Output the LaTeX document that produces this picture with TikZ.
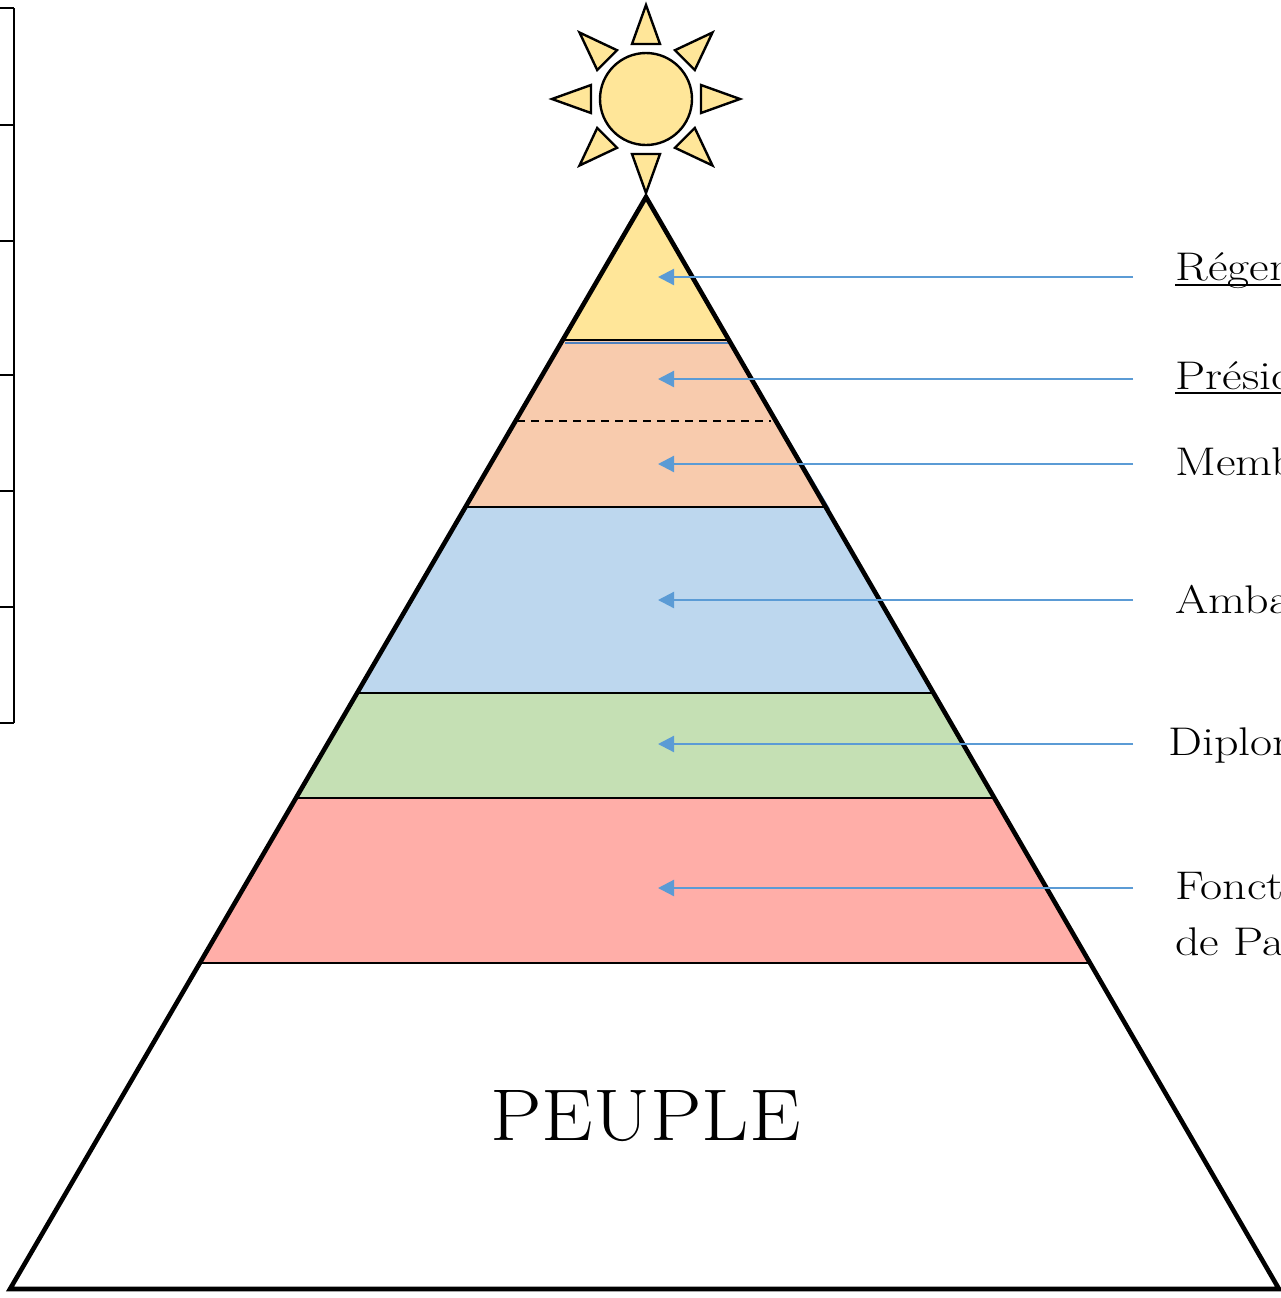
\documentclass[tikz,border=0pt]{standalone}
\usetikzlibrary{arrows.meta}
\definecolor{sunY}{HTML}{FFE699}
\definecolor{bandO}{HTML}{F8CBAD}
\definecolor{bandB}{HTML}{BDD7EE}
\definecolor{bandG}{HTML}{C5E0B4}
\definecolor{bandR}{HTML}{FFAEA8}
\definecolor{arrowB}{HTML}{5B9BD5}
\definecolor{edgeB}{HTML}{4F81BD}
\newcommand{\wide}[1]{\scalebox{1.2}[1]{#1}}
\tikzset{
  bandline/.style={line width=1pt, black},
  outline/.style={line width=2.3pt, black, line join=miter},
  sunpart/.style={fill=sunY, draw=black, line width=1.2pt, line join=miter},
  pointer/.style={draw=arrowB, line width=1.1pt, -{Triangle[length=8pt,width=8pt]}},
  lab/.style={anchor=base west, inner sep=0pt, font=\fontsize{20}{28}\selectfont},
  scaleline/.style={line width=1pt, black}
}
\begin{document}
\begin{tikzpicture}[x=0.5pt,y=-0.5pt]
\useasboundingbox (0,0) rectangle (1281,1298);
\clip (0,0) rectangle (1281,1298);
\fill[white] (0,0) rectangle (1281,1298);

% left scale
\draw[scaleline] (14,8) -- (14,723);
\foreach \yy in {8,125,241,375,491,607,723} \draw[scaleline] (0,\yy) -- (14,\yy);

% bands
\fill[sunY]  (646,197) -- (562.7,340) -- (728.9,340) -- cycle;
\fill[bandO] (562.7,340) -- (728.9,340) -- (825.7,507) -- (465.5,507) -- cycle;
\fill[bandB] (465.5,507) -- (825.7,507) -- (933.5,693) -- (357.1,693) -- cycle;
\fill[bandG] (357.1,693) -- (933.5,693) -- (994.4,798) -- (296.0,798) -- cycle;
\fill[bandR] (296.0,798) -- (994.4,798) -- (1090.1,963) -- (199.9,963) -- cycle;

% blue edge of the orange band
\draw[edgeB, line width=0.9pt] (565,343) -- (731,343) -- (829,509);

% band separators
\draw[bandline] (562.7,340) -- (728.9,340);
\draw[bandline, dash pattern=on 4pt off 3pt] (517,421) -- (771,421);
\draw[bandline] (465.5,507) -- (825.7,507);
\draw[bandline] (357.1,693) -- (933.5,693);
\draw[bandline] (296.0,798) -- (994.4,798);
\draw[bandline] (199.9,963) -- (1090.1,963);

% pyramid outline
\draw[outline] (646,197) -- (10,1289) -- (1279,1289) -- cycle;

% sun
\draw[sunpart] (646,99) circle[radius=46];
\foreach \a in {0,45,...,315}
  \draw[sunpart, rotate around={\a:(646,99)}] (701,85) -- (740,99) -- (701,113) -- cycle;

% arrows
\coordinate (s1) at (1133,277); \coordinate (t1) at (658,277);
\coordinate (s2) at (1133,379); \coordinate (t2) at (658,379);
\coordinate (s3) at (1133,464); \coordinate (t3) at (658,464);
\coordinate (s4) at (1133,600); \coordinate (t4) at (658,600);
\coordinate (s5) at (1133,744); \coordinate (t5) at (658,744);
\coordinate (s6) at (1133,888); \coordinate (t6) at (658,888);
\foreach \i in {1,...,6} \draw[pointer] (s\i) -- (t\i);

% labels
\node[lab] (l1) at (1175,280) {\wide{Régent}};
\node[lab] (l2) at (1175,389) {\wide{Président}};
\node[lab] (l3) at (1175,475) {\wide{Membres}};
\node[lab] (l4) at (1175,613) {\wide{Ambassadeurs}};
\node[lab] (l5) at (1168,755) {\wide{Diplomates}};
\node[lab] (l6) at (1175,899) {\wide{Fonctionnaires}};
\node[lab] (l7) at (1175,955) {\wide{de Paix}};
\draw[line width=1pt] (l1.base west) ++(0,5) -- ++(120,0);
\draw[line width=1pt] (l2.base west) ++(0,4) -- ++(120,0);

% PEUPLE
\node[anchor=base, inner sep=0pt, font=\fontsize{36.6}{44}\selectfont] (peuple) at (645.5,1140) {\scalebox{1.12}[1]{PEUPLE}};
\end{tikzpicture}
\end{document}
